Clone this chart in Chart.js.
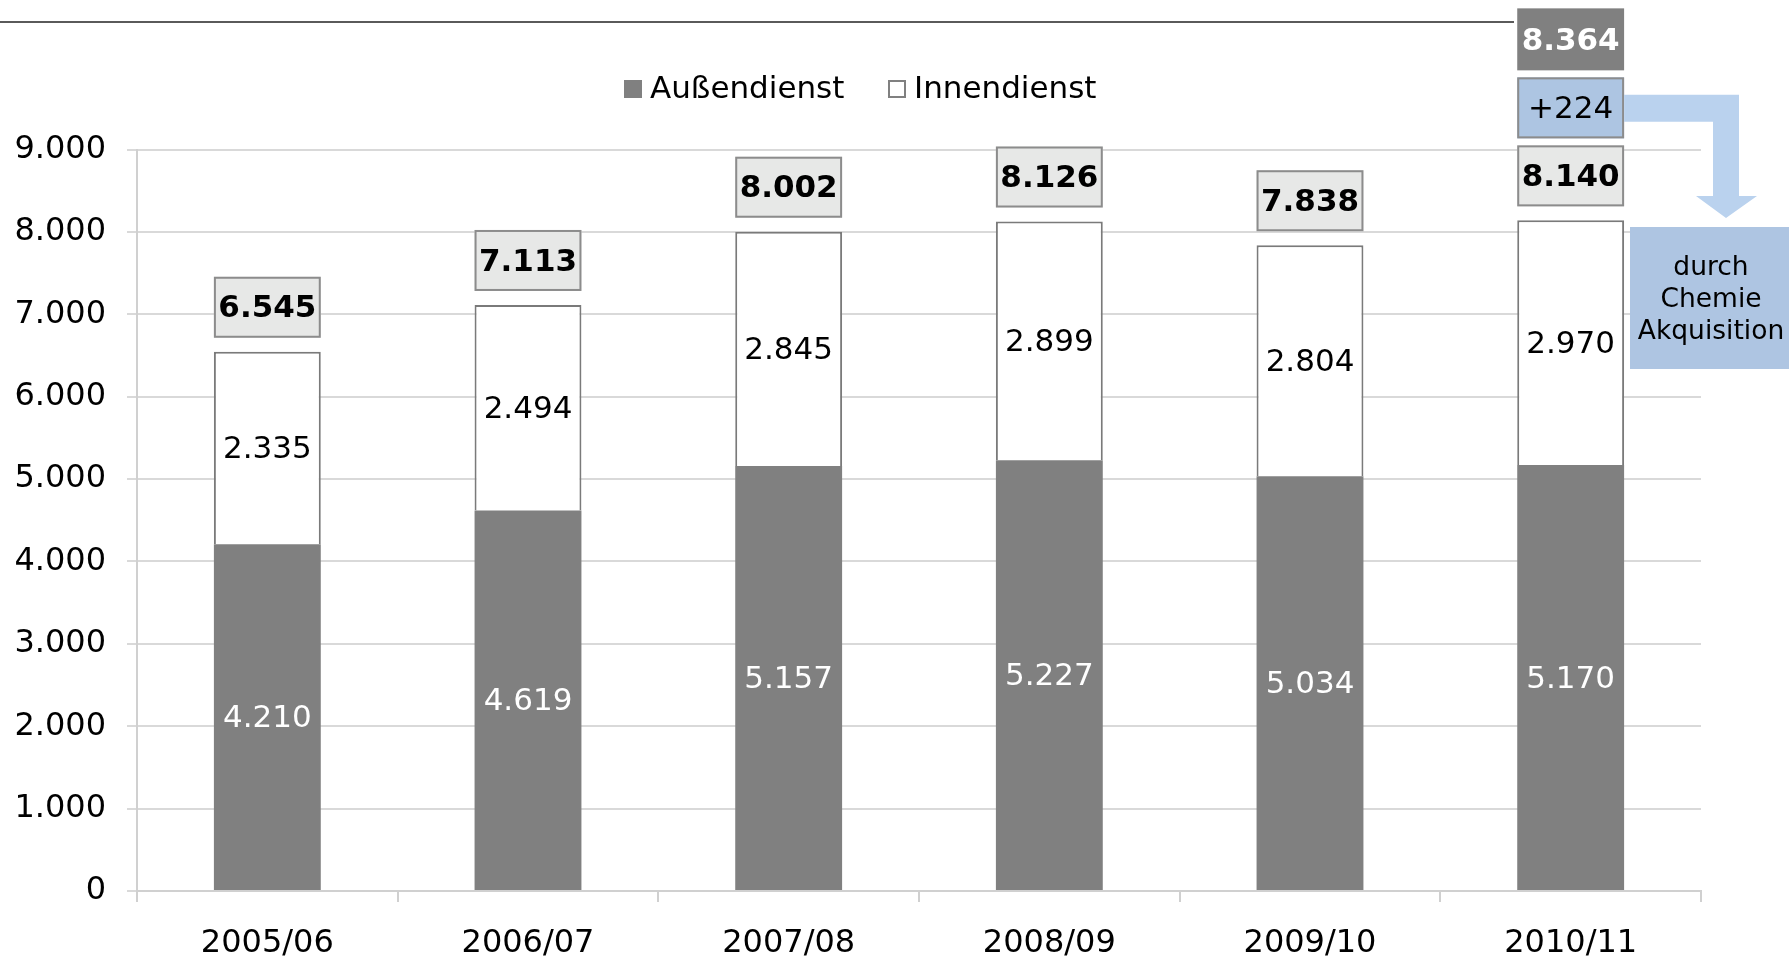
<!DOCTYPE html>
<html lang="de">
<head>
<meta charset="UTF-8" />
<title>Mitarbeiter Außendienst / Innendienst</title>
<script src="https://cdn.jsdelivr.net/npm/chart.js"></script>
<style>
html, body { margin: 0; padding: 0; background: #fff; }
#wrap { width: 1789px; height: 957px; position: relative; }
</style>
</head>
<body>
<div id="wrap"><canvas id="staffChart"></canvas></div>
<script>
// data
const years = ['2005/06', '2006/07', '2007/08', '2008/09', '2009/10', '2010/11'];
const aussendienst = [4210, 4619, 5157, 5227, 5034, 5170];
const innendienst = [2335, 2494, 2845, 2899, 2804, 2970];
const akquisition = [0, 0, 0, 0, 0, 224];   // added through Chemie acquisition
const yTicks = [0, 1000, 2000, 3000, 4000, 5000, 6000, 7000, 8000, 9000];
const noteLines = ['durch', 'Chemie', 'Akquisition'];

const FONT = '"DejaVu Sans", Verdana, sans-serif';
Chart.defaults.font.family = FONT;
Chart.defaults.color = '#000';

const fmt = n => String(n).replace(/\B(?=(\d{3})+(?!\d))/g, '.');

function box(ctx, x, y, w, h, fill, stroke) {
    ctx.fillStyle = fill;
    ctx.fillRect(x, y, w, h);
    if (stroke) {
        ctx.strokeStyle = stroke;
        ctx.lineWidth = 2;
        ctx.strokeRect(x + 1, y + 1, w - 2, h - 2);
    }
}

// value labels, total boxes, legend and the acquisition note
const slidePlugin = {
    id: 'slide',
    beforeDraw(chart) {
        const ctx = chart.ctx;
        ctx.save();
        ctx.strokeStyle = '#5a5a5a';
        ctx.lineWidth = 2;
        ctx.beginPath();
        ctx.moveTo(0, 22);
        ctx.lineTo(1514, 22);
        ctx.stroke();
        ctx.restore();
    },
    afterDatasetsDraw(chart) {
        const ctx = chart.ctx;
        ctx.save();
        ctx.textAlign = 'center';
        ctx.textBaseline = 'middle';

        // inside labels
        chart.data.datasets.forEach((ds, di) => {
            chart.getDatasetMeta(di).data.forEach((bar, i) => {
                ctx.fillStyle = di === 0 ? '#fff' : '#000';
                ctx.font = '31px ' + FONT;
                ctx.fillText(fmt(ds.data[i]), bar.x, (bar.y + bar.base) / 2 + 2);
            });
        });

        // totals above bars
        const tops = chart.getDatasetMeta(1).data;
        tops.forEach((bar, i) => {
            const w = bar.width, h = 61, gap = 7;
            const total = aussendienst[i] + innendienst[i];
            let y = bar.y - 14 - h;
            box(ctx, bar.x - w / 2, y, w, h, '#e7e8e7', '#8c8c8c');
            ctx.fillStyle = '#000';
            ctx.font = 'bold 31px ' + FONT;
            ctx.fillText(fmt(total), bar.x, y + h / 2 + 2);

            if (akquisition[i]) {
                y -= h + gap;
                box(ctx, bar.x - w / 2, y, w, h, '#adc5e2', '#8c8c8c');
                ctx.fillStyle = '#000';
                ctx.font = '31px ' + FONT;
                ctx.fillText('+' + fmt(akquisition[i]), bar.x, y + h / 2 + 2);
                const plusY = y + h / 2;

                y -= h + gap;
                box(ctx, bar.x - w / 2, y - 1, w, h + 1, '#808080', null);
                ctx.fillStyle = '#fff';
                ctx.font = 'bold 31px ' + FONT;
                ctx.fillText(fmt(total + akquisition[i]), bar.x, y + h / 2 + 2);

                // bent arrow to the note
                const x0 = bar.x + w / 2;
                ctx.fillStyle = '#bad2ee';
                ctx.beginPath();
                ctx.moveTo(x0, plusY - 13);
                ctx.lineTo(1739, plusY - 13);
                ctx.lineTo(1739, 196);
                ctx.lineTo(1757, 196);
                ctx.lineTo(1726, 218);
                ctx.lineTo(1696, 196);
                ctx.lineTo(1713, 196);
                ctx.lineTo(1713, plusY + 14);
                ctx.lineTo(x0, plusY + 14);
                ctx.closePath();
                ctx.fill();

                box(ctx, 1630, 227, 159, 142, '#aec5e2', null);
                ctx.fillStyle = '#000';
                ctx.font = '26.5px ' + FONT;
                noteLines.forEach((t, k) => ctx.fillText(t, 1711, 268 + k * 32));
            }
        });

        // legend
        ctx.textAlign = 'left';
        ctx.font = '31px ' + FONT;
        const lx = [624, 888];
        chart.data.datasets.forEach((ds, di) => {
            box(ctx, lx[di], 80, 18, 18, ds.backgroundColor, di === 1 ? '#808080' : null);
            ctx.fillStyle = '#000';
            ctx.fillText(ds.label, lx[di] + 26, 90);
        });
        ctx.restore();
    }
};

new Chart(document.getElementById('staffChart'), {
    type: 'bar',
    data: {
        labels: years,
        datasets: [
            { label: 'Außendienst', data: aussendienst, backgroundColor: '#808080', borderWidth: 0 },
            { label: 'Innendienst', data: innendienst, backgroundColor: '#ffffff', borderColor: '#7a7a7a', borderWidth: 2 }
        ]
    },
    options: {
        responsive: true,
        maintainAspectRatio: false,
        animation: false,
        datasets: { bar: { barPercentage: 0.41, categoryPercentage: 1 } },
        layout: { padding: { top: 149.5, right: 88, left: 0, bottom: 0 } },
        plugins: { legend: { display: false }, tooltip: { enabled: false } },
        scales: {
            x: {
                stacked: true,
                grid: { drawOnChartArea: false, drawTicks: true, tickLength: 11, color: '#d0d0d0', lineWidth: 2, offset: true },
                border: { color: '#d0d0d0', width: 2 },
                ticks: { font: { size: 32 }, padding: 22, color: '#000' },
                afterFit(s) { s.height = 66; }
            },
            y: {
                stacked: true,
                min: 0,
                max: 9000,
                grid: { color: '#d9d9d9', lineWidth: 2, tickLength: 10 },
                border: { color: '#d0d0d0', width: 2 },
                afterBuildTicks(s) { s.ticks = yTicks.map(v => ({ value: v })); },
                ticks: { font: { size: 32 }, padding: 21, color: '#000', callback: v => fmt(v) },
                afterFit(s) { s.width = 137; }
            }
        }
    },
    plugins: [slidePlugin]
});
</script>
</body>
</html>
